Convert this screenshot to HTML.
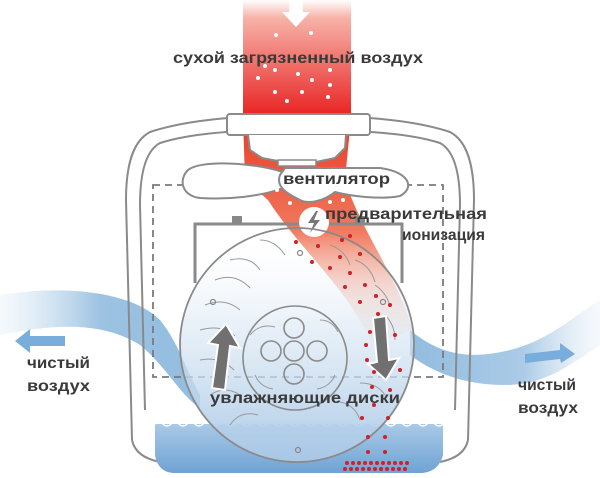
<!DOCTYPE html>
<html><head><meta charset="utf-8"><style>
html,body{margin:0;padding:0;background:#fff;width:600px;height:478px;overflow:hidden}
svg{display:block}
text{font-family:"Liberation Sans",sans-serif;fill:#3a3a3a;font-size:16px;font-weight:bold}
</style></head><body>
<svg width="600" height="478" viewBox="0 0 600 478">
<defs>
<linearGradient id="red" x1="0" y1="0" x2="0" y2="1">
<stop offset="0" stop-color="#fff"/><stop offset="0.15" stop-color="#f7b3a8"/><stop offset="1" stop-color="#e82020"/></linearGradient>
<linearGradient id="red2" x1="0" y1="0" x2="0" y2="1">
<stop offset="0" stop-color="#e83a25"/><stop offset="0.5" stop-color="#f07a5e"/><stop offset="1" stop-color="#fbe0d6" stop-opacity="0.3"/></linearGradient>
<linearGradient id="blueL" x1="0" y1="0" x2="1" y2="0">
<stop offset="0" stop-color="#c9deef" stop-opacity="0.2"/><stop offset="0.5" stop-color="#8cb8dd"/><stop offset="1" stop-color="#7fb0da"/></linearGradient>
<linearGradient id="blueR" x1="0" y1="0" x2="1" y2="0">
<stop offset="0" stop-color="#7fb0da"/><stop offset="0.6" stop-color="#9cc2e2"/><stop offset="1" stop-color="#dce9f4" stop-opacity="0.3"/></linearGradient>
<linearGradient id="disc" x1="0" y1="0" x2="0" y2="1">
<stop offset="0" stop-color="#fff" stop-opacity="0"/><stop offset="0.4" stop-color="#dbe8f4" stop-opacity="0.6"/><stop offset="1" stop-color="#a9c8e6"/></linearGradient>
<linearGradient id="water" x1="0" y1="0" x2="0" y2="1">
<stop offset="0" stop-color="#a9c9e6"/><stop offset="1" stop-color="#6fa3d4"/></linearGradient>
</defs>

<!-- red intake column -->
<rect x="243" y="0" width="108" height="118" fill="url(#red)"/>
<polygon points="289,0 303,0 303,12 310,12 296,27 282,12 289,12" fill="#fff"/>

<!-- blue flows -->
<path d="M0,295 C60,285 130,290 160,320 C180,345 188,375 200,395 L200,408 C180,395 165,365 140,345 C100,320 50,325 0,335 Z" fill="url(#blueL)" opacity="0.85"/>
<path d="M410,330 C440,355 470,360 510,350 C550,340 575,315 600,300 L600,345 C570,365 545,385 505,385 C460,385 430,370 410,355 Z" fill="url(#blueR)" opacity="0.85"/>
<polygon points="65,336 30,336 30,329 15,341 30,353 30,346 65,346" fill="#79aedc"/>
<polygon points="525,354 560,350 560,343 575,354 561,363 560,359 525,363" fill="#79aedc"/>

<!-- housing -->
<path d="M132,440 L126,200 C126,160 135,140 150,132 C180,122 220,118 245,117 M350,117 C380,118 420,122 450,132 C465,140 474,160 474,200 L468,440" fill="none" stroke="#8a8a8a" stroke-width="2"/>
<path d="M145,410 L140,205 C140,170 147,150 160,143 C185,135 220,132 245,131 M350,131 C380,132 415,135 440,143 C453,150 460,170 460,205 L455,410" fill="none" stroke="#8a8a8a" stroke-width="2"/>
<path d="M132,440 C135,455 150,460 160,462 M468,440 C465,455 450,460 440,462" fill="none" stroke="#8a8a8a" stroke-width="2"/>

<!-- red inner flow -->
<path d="M243,118 L351,118 L345,180 C360,230 400,280 412,330 L372,345 C350,290 300,250 268,200 L245,180 Z" fill="url(#red2)"/>

<!-- dashed box -->
<rect x="153" y="185" width="290" height="192" fill="none" stroke="#7a7a7a" stroke-width="1.8" stroke-dasharray="7,5"/>
<!-- bracket -->
<path d="M195,283 L195,224 L402,224 L402,283" fill="none" stroke="#8a8a8a" stroke-width="3"/>
<rect x="232" y="216" width="10" height="8" fill="#888"/>
<rect x="355" y="216" width="10" height="8" fill="#888"/>

<!-- cap -->
<rect x="227" y="114" width="143" height="21" rx="3" fill="#fff" stroke="#8a8a8a" stroke-width="2"/>
<path d="M248,135 L250,150 L262,158 L283,162 L316,162 L335,158 L345,148 L346,135" fill="#fff" stroke="#8a8a8a" stroke-width="2"/>
<rect x="278" y="160" width="38" height="6" fill="#fff" stroke="#8a8a8a" stroke-width="1.5"/>
<!-- fan -->
<path d="M283,172 C250,162 200,160 188,170 C178,180 182,196 200,198 C230,200 262,196 283,188 Z" fill="#fff" stroke="#8a8a8a" stroke-width="2"/>
<path d="M285,168 L380,168 C410,172 415,188 400,196 C380,200 350,196 335,192 C325,200 310,205 300,200 C290,195 275,188 280,175 Z" fill="#fff" stroke="#8a8a8a" stroke-width="2"/>

<!-- ionization -->
<circle cx="314" cy="222" r="15" fill="#fff"/>
<path d="M316,211 L308,223 L314,223 L310,233 L320,220 L314,220 L318,211 Z" fill="#777"/>

<!-- water -->
<path d="M155,424 L443,424 L443,455 C440,468 430,473 420,473 L175,473 C165,473 157,468 155,455 Z" fill="url(#water)"/>
<path d="M155,424 q4,-4 8,0 t8,0 t8,0 t8,0 t8,0 t8,0 t8,0 t8,0 t8,0 t8,0 t8,0 t8,0 t8,0 t8,0 t8,0 t8,0 t8,0 t8,0 t8,0 t8,0 t8,0 t8,0 t8,0 t8,0 t8,0 t8,0 t8,0 t8,0 t8,0 t8,0 t8,0 t8,0 t8,0 t8,0 t8,0 t8,0" fill="none" stroke="#fff" stroke-width="1.5"/>

<!-- discs -->
<circle cx="297" cy="345" r="117" fill="url(#disc)" stroke="#8a8a8a" stroke-width="1.8"/>
<g fill="none" stroke="#9a9a9a" stroke-width="1">
<path d="M230,260 q20,-5 30,10"/><path d="M215,280 q20,-8 35,8"/><path d="M205,305 q20,-8 35,5"/><path d="M200,330 q22,-6 35,6"/><path d="M200,360 q20,-4 34,10"/>
<path d="M260,240 q15,0 25,15"/><path d="M330,245 q15,5 20,20"/><path d="M355,260 q15,5 20,22"/><path d="M375,285 q12,8 15,22"/><path d="M385,315 q10,10 10,25"/>
<path d="M210,395 q15,-10 30,0"/><path d="M230,425 q10,-15 28,-10"/><path d="M360,420 q-5,-15 -20,-18"/><path d="M385,395 q-8,-12 -25,-12"/>
<path d="M250,335 q10,-12 25,-8"/><path d="M320,320 q12,0 18,12"/><path d="M335,375 q-5,12 -18,14"/><path d="M255,375 q5,12 18,14"/>
</g>
<circle cx="295" cy="358" r="52" fill="none" stroke="#8a8a8a" stroke-width="1.6"/>
<g fill="none" stroke="#8a8a8a" stroke-width="1.6">
<circle cx="294" cy="328" r="10"/><circle cx="271" cy="351" r="10"/><circle cx="294" cy="351" r="10"/><circle cx="317" cy="351" r="10"/><circle cx="294" cy="374" r="10"/>
</g>
<g fill="none" stroke="#888" stroke-width="1.2"><circle cx="213" cy="302" r="2.5"/><circle cx="383" cy="302" r="2.5"/><circle cx="298" cy="450" r="2.5"/><circle cx="300" cy="253" r="2.5"/></g>

<!-- gray arrows -->
<path d="M212,388 L218,345 L208,343 L226,324 L240,348 L230,346 L225,390 Z" fill="#707070" stroke="#fff" stroke-width="2"/>
<path d="M373,318 L386,316 L389,360 L399,358 L386,380 L368,364 L377,362 Z" fill="#707070" stroke="#fff" stroke-width="2"/>

<!-- white dots in red column -->
<g fill="#fff">
<circle cx="276" cy="35" r="2"/><circle cx="311" cy="33" r="2"/><circle cx="258" cy="78" r="2"/><circle cx="275" cy="70" r="2"/><circle cx="298" cy="74" r="2"/><circle cx="312" cy="80" r="2"/><circle cx="330" cy="70" r="2"/><circle cx="275" cy="92" r="2"/><circle cx="302" cy="92" r="2"/><circle cx="328" cy="97" r="2"/><circle cx="287" cy="101" r="2"/><circle cx="265" cy="66" r="2"/><circle cx="330" cy="85" r="2"/>
<circle cx="277" cy="190" r="2"/><circle cx="330" cy="190" r="2"/><circle cx="290" cy="203" r="2"/><circle cx="330" cy="202" r="2"/><circle cx="343" cy="200" r="2"/>
</g>
<!-- red dots -->
<g fill="#d0202a">
<circle cx="296" cy="242" r="2"/><circle cx="318" cy="246" r="2"/><circle cx="342" cy="240" r="2"/><circle cx="350" cy="236" r="2"/><circle cx="340" cy="257" r="2"/><circle cx="312" cy="262" r="2"/><circle cx="330" cy="268" r="2"/><circle cx="350" cy="273" r="2"/><circle cx="360" cy="254" r="2"/><circle cx="345" cy="287" r="2"/><circle cx="365" cy="285" r="2"/><circle cx="376" cy="296" r="2"/><circle cx="360" cy="302" r="2"/><circle cx="390" cy="305" r="2"/><circle cx="378" cy="314" r="2"/><circle cx="370" cy="332" r="2"/><circle cx="395" cy="335" r="2"/><circle cx="366" cy="345" r="2"/><circle cx="367" cy="360" r="2"/><circle cx="374" cy="372" r="2"/><circle cx="400" cy="370" r="2"/><circle cx="372" cy="387" r="2"/><circle cx="390" cy="390" r="2"/><circle cx="374" cy="405" r="2"/><circle cx="388" cy="418" r="2"/><circle cx="362" cy="418" r="2"/><circle cx="368" cy="437" r="2"/><circle cx="385" cy="437" r="2"/><circle cx="368" cy="452" r="2"/><circle cx="385" cy="452" r="2"/>
</g>
<g fill="#d0202a">
<circle cx="347" cy="463" r="2"/><circle cx="353" cy="463" r="2"/><circle cx="359" cy="463" r="2"/><circle cx="365" cy="463" r="2"/><circle cx="371" cy="463" r="2"/><circle cx="377" cy="463" r="2"/><circle cx="383" cy="463" r="2"/><circle cx="389" cy="463" r="2"/><circle cx="395" cy="463" r="2"/><circle cx="401" cy="463" r="2"/><circle cx="407" cy="463" r="2"/>
<circle cx="345" cy="469" r="2"/><circle cx="351" cy="469" r="2"/><circle cx="357" cy="469" r="2"/><circle cx="363" cy="469" r="2"/><circle cx="369" cy="469" r="2"/><circle cx="375" cy="469" r="2"/><circle cx="381" cy="469" r="2"/><circle cx="387" cy="469" r="2"/><circle cx="393" cy="469" r="2"/><circle cx="399" cy="469" r="2"/><circle cx="405" cy="469" r="2"/>
</g>

<!-- labels -->
<text x="173" y="63" textLength="250" lengthAdjust="spacingAndGlyphs">сухой загрязненный воздух</text>
<text x="283" y="184" textLength="107" lengthAdjust="spacingAndGlyphs">вентилятор</text>
<text x="325" y="219" textLength="162" lengthAdjust="spacingAndGlyphs">предварительная</text>
<text x="402" y="240" textLength="83" lengthAdjust="spacingAndGlyphs">ионизация</text>
<text x="210" y="403" textLength="190" lengthAdjust="spacingAndGlyphs">увлажняющие диски</text>
<text x="27" y="368" textLength="63" lengthAdjust="spacingAndGlyphs">чистый</text>
<text x="27" y="391" textLength="63" lengthAdjust="spacingAndGlyphs">воздух</text>
<text x="518" y="390" textLength="58" lengthAdjust="spacingAndGlyphs">чистый</text>
<text x="518" y="413" textLength="60" lengthAdjust="spacingAndGlyphs">воздух</text>
</svg>
</body></html>
